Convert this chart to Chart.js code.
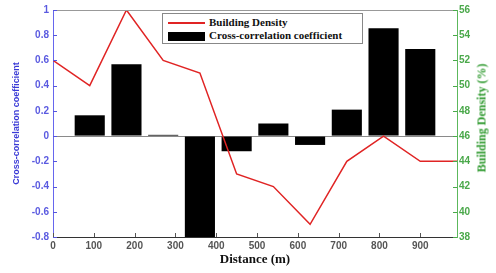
<!DOCTYPE html>
<html>
<head>
<meta charset="utf-8">
<script src="https://cdn.jsdelivr.net/npm/chart.js@4/dist/chart.umd.min.js"></script>
<style>
  html,body{margin:0;padding:0;background:#fff;}
  #wrap{position:relative;width:496px;height:273px;overflow:hidden;}
  #legend{position:absolute;left:162px;top:13px;width:199px;height:29px;border:1px solid #888;background:#fff;
    font-family:"Liberation Serif","Times New Roman",serif;font-weight:bold;font-size:11px;color:#111;}
  .row{position:absolute;left:5px;height:13px;line-height:13px;white-space:nowrap;}
  .sw{display:inline-block;width:37px;vertical-align:middle;margin-right:4px;}
  #rtitle{position:absolute;left:482px;top:118px;transform:translate(-50%,-50%) rotate(-90deg);white-space:nowrap;
    font-family:"Liberation Serif","Times New Roman",serif;font-weight:bold;font-size:12px;color:#2f9a2f;}
</style>
</head>
<body>
<div id="wrap">
  <canvas id="c" width="496" height="273"></canvas>
  <div id="legend">
    <div class="row" style="top:2px"><span class="sw" style="height:2px;background:#e02424"></span>Building Density</div>
    <div class="row" style="top:15px"><span class="sw" style="height:9px;background:#000"></span>Cross-correlation coefficient</div>
  </div>
  <div id="rtitle">Building Density (%)</div>
</div>
<script>
// ---- data ----
const barDistances = [90, 180, 270, 360, 450, 540, 630, 720, 810, 900];
const crossCorrelation = [0.165, 0.57, 0.01, -0.8, -0.12, 0.10, -0.07, 0.21, 0.855, 0.69];
const lineDistances = [0, 90, 180, 270, 360, 450, 540, 630, 720, 810, 900, 990];
const buildingDensity = [52, 50, 56, 52, 51, 43, 42, 39, 44, 46, 44, 44];
const leftTicks = [-0.8, -0.6, -0.4, -0.2, 0, 0.2, 0.4, 0.6, 0.8, 1];
const rightTicks = [38, 40, 42, 44, 46, 48, 50, 52, 54, 56];
const xTicks = [0, 100, 200, 300, 400, 500, 600, 700, 800, 900];

const barData = barDistances.map((x, i) => ({x: x, y: crossCorrelation[i]}));
const lineData = lineDistances.map((x, i) => ({x: x, y: buildingDensity[i]}));

const tickFont = {family: "'Liberation Sans', Arial, sans-serif", size: 10, weight: 'bold'};

const inwardTicks = {
  id: 'inwardTicks',
  afterDatasetsDraw(chart) {
    const {ctx, chartArea: a, scales} = chart;
    ctx.save();
    ctx.lineWidth = 1;
    // top border
    ctx.strokeStyle = '#999';
    ctx.beginPath(); ctx.moveTo(a.left, a.top + 0.5); ctx.lineTo(a.right, a.top + 0.5); ctx.stroke();
    // x ticks
    ctx.strokeStyle = '#555';
    scales.x.ticks.forEach(t => {
      const px = Math.round(scales.x.getPixelForValue(t.value)) + 0.5;
      ctx.beginPath(); ctx.moveTo(px, a.bottom); ctx.lineTo(px, a.bottom - 4); ctx.stroke();
    });
    ctx.strokeStyle = '#5555dd';
    scales.y.ticks.forEach(t => {
      const py = Math.round(scales.y.getPixelForValue(t.value)) + 0.5;
      ctx.beginPath(); ctx.moveTo(a.left, py); ctx.lineTo(a.left + 4, py); ctx.stroke();
    });
    ctx.strokeStyle = '#4aa84a';
    scales.y2.ticks.forEach(t => {
      const py = Math.round(scales.y2.getPixelForValue(t.value)) + 0.5;
      ctx.beginPath(); ctx.moveTo(a.right, py); ctx.lineTo(a.right - 4, py); ctx.stroke();
    });
    ctx.restore();
  }
};

new Chart(document.getElementById('c'), {
  data: {
    datasets: [
      {type: 'line', label: 'Building Density', data: lineData, yAxisID: 'y2', xAxisID: 'x',
       borderColor: '#e02424', borderWidth: 1.5, pointRadius: 0, tension: 0, fill: false},
      {type: 'bar', label: 'Cross-correlation coefficient', data: barData, yAxisID: 'y', xAxisID: 'x',
       backgroundColor: '#000', borderWidth: 0, barPercentage: 0.82, categoryPercentage: 1.0}
    ]
  },
  options: {
    responsive: false,
    animation: false,
    layout: {padding: {top: 5, left: 0, right: 0, bottom: 0}},
    plugins: {legend: {display: false}, tooltip: {enabled: false}},
    scales: {
      x: {
        type: 'linear', min: 0, max: 990, offset: false,
        afterFit: s => { s.height = 36; },
        afterBuildTicks: s => { s.ticks = xTicks.map(v => ({value: v})); },
        ticks: {font: tickFont, color: '#555', padding: 3, maxRotation: 0},
        grid: {display: false, drawTicks: false},
        border: {color: '#333', width: 1},
        title: {display: true, text: 'Distance (m)', color: '#111',
                font: {family: "'Liberation Serif','Times New Roman',serif", size: 13, weight: 'bold'},
                padding: {top: 0, bottom: 6}}
      },
      y: {
        type: 'linear', position: 'left', min: -0.8, max: 1,
        afterFit: s => { s.width = 53; },
        afterBuildTicks: s => { s.ticks = leftTicks.map(v => ({value: v})); },
        ticks: {font: tickFont, color: '#5a5ae0', padding: 4,
                callback: v => String(Number(v.toFixed(1)))},
        grid: {drawTicks: false, color: c => (c.tick && c.tick.value === 0) ? '#8a8a8a' : 'rgba(0,0,0,0)'},
        border: {color: '#6666ee', width: 1},
        title: {display: true, text: 'Cross-correlation coefficient', color: '#3b3bd6',
                font: {family: "'Liberation Sans', Arial, sans-serif", size: 9, weight: 'bold'},
                padding: {top: 11, bottom: 0}}
      },
      y2: {
        type: 'linear', position: 'right', min: 38, max: 56,
        afterFit: s => { s.width = 39; },
        afterBuildTicks: s => { s.ticks = rightTicks.map(v => ({value: v})); },
        ticks: {font: tickFont, color: '#4aa84a', padding: 2},
        grid: {drawOnChartArea: false, drawTicks: false},
        border: {color: '#5cb85c', width: 1}
      }
    }
  },
  plugins: [inwardTicks]
});
</script>
</body>
</html>
